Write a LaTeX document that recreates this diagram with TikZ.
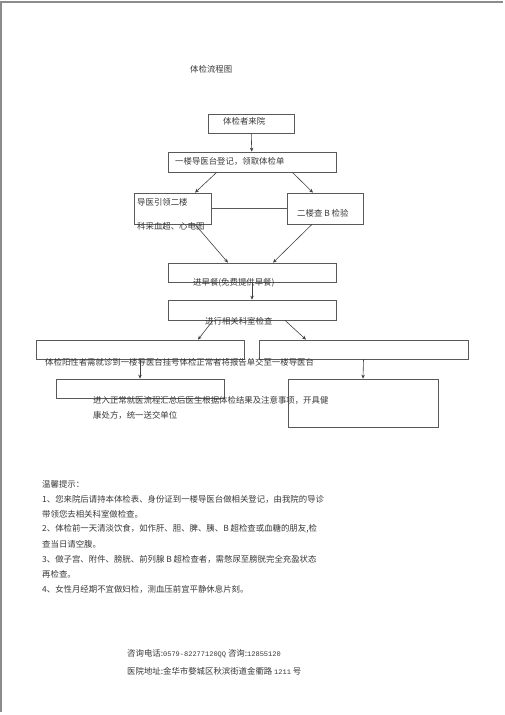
\documentclass[tikz,border=0pt]{standalone}
\usepackage{fontspec}
\newfontfamily\cjk{Noto Sans CJK SC}
\newfontfamily\digits{Liberation Mono}
\usetikzlibrary{arrows.meta}

\begin{document}
\begin{tikzpicture}[x=1pt,y=-1pt,>={Stealth[length=4pt,width=3.5pt]}]
  \tikzset{
    flow box/.style 2 args={draw=black!65, line width=0.7pt, minimum width=#1,
      minimum height=#2, inner sep=0pt},
    flow text/.style={anchor=west, inner sep=0pt, text=black!78,
      font=\cjk\fontsize{8.4}{10}\selectfont},
    flow arrow/.style={->, draw=black!75, line width=0.6pt}
  }
  \useasboundingbox (0,0) rectangle (505,715);
  % page border
  \draw[black!45, line width=1.2pt] (503,2) -- (1,2) -- (1,712);
  \node[flow text] (title) at (190,69) {体检流程图};
  % boxes
  \node[flow box={86pt}{19pt}] (come) at (251,123.5) {};
  \node[flow box={168pt}{20pt}] (reg) at (252,162) {};
  \node[flow box={77pt}{31pt}] (guide) at (172.5,208.5) {};
  \node[flow box={76pt}{31pt}] (bscan) at (325,208.5) {};
  \node[flow box={168pt}{19pt}] (meal) at (252,272.5) {};
  \node[flow box={168pt}{20pt}] (exam) at (252,310) {};
  \node[flow box={208pt}{19pt}] (pos) at (140,349.5) {};
  \node[flow box={209pt}{19pt}] (normal) at (363.5,349.5) {};
  \node[flow box={168pt}{19pt}] (clinic) at (140,388.5) {};
  \node[flow box={150pt}{48pt}] (report) at (363,403) {};
  % texts, partly over the borders as printed
  \node[flow text] (come text) at (223,121) {体检者来院};
  \node[flow text] (reg text) at (175,161) {一楼导医台登记，领取体检单};
  \node[flow text] (guide text) at (137,202) {导医引领二楼};
  \node[flow text] (guide text2) at (137,226) {科采血超、心电图};
  \node[flow text] (bscan text) at (297,213) {二楼查 B 检验};
  \node[flow text] (meal text) at (193,283) {进早餐(免费提供早餐)};
  \node[flow text] (exam text) at (205,321) {进行相关科室检查};
  \node[flow text] (pos text) at (45,362)
    {体检阳性者需就诊到一楼导医台挂号体检正常者将报告单交至一楼导医台};
  \node[flow text] (clinic text) at (93,400)
    {进入正常就医流程汇总后医生根据体检结果及注意事项，开具健};
  \node[flow text] (clinic text2) at (93,415) {康处方，统一送交单位};
  % connectors
  \draw[flow arrow] (come) -- (reg);
  \draw[flow arrow] ([xshift=49pt]reg.south west) -- ([xshift=22.5pt]guide.north);
  \draw[flow arrow] ([xshift=-44pt]reg.south east) -- ([xshift=-12pt]bscan.north);
  \draw[draw=black!65, line width=0.7pt] (guide.east) -- (bscan.west);
  \draw[flow arrow] ([xshift=22.5pt]guide.south) -- ([xshift=-24pt]meal.north);
  \draw[flow arrow] ([xshift=-13pt]bscan.south) -- ([xshift=21pt]meal.north);
  \draw[flow arrow] (meal) -- (exam);
  \draw[flow arrow] ([xshift=-39pt]exam.south) -- ([xshift=58pt]pos.north);
  \draw[flow arrow] ([xshift=33pt]exam.south) -- ([xshift=-57.5pt]normal.north);
  \draw[flow arrow] (pos) -- (clinic);
  \draw[flow arrow] (normal.south) -- (report.north);
  % tips
  \foreach \line [count=\j] in {%
    {温馨提示：},%
    {1、您来院后请持本体检表、身份证到一楼导医台做相关登记，由我院的导诊},%
    {带领您去相关科室做检查。},%
    {2、体检前一天清淡饮食，如作肝、胆、脾、胰、B 超检查或血糖的朋友,检},%
    {查当日请空腹。},%
    {3、做子宫、附件、膀胱、前列腺 B 超检查者，需憋尿至膀胱完全充盈状态},%
    {再检查。},%
    {4、女性月经期不宜做妇检，测血压前宜平静休息片刻。}%
  } {
    \node[flow text] (tip\j) at (42, 469 + 15*\j) {\line};
  }
  \node[flow text] (phone) at (127,654)
    {咨询电话:{\digits\fontsize{7}{8}\selectfont 0579-82277120QQ} 咨询:{\digits\fontsize{7}{8}\selectfont 12855120}};
  \node[flow text] (address) at (127,671)
    {医院地址:金华市婺城区秋滨街道金衢路 {\digits\fontsize{7}{8}\selectfont 1211} 号};
\end{tikzpicture}
\end{document}
